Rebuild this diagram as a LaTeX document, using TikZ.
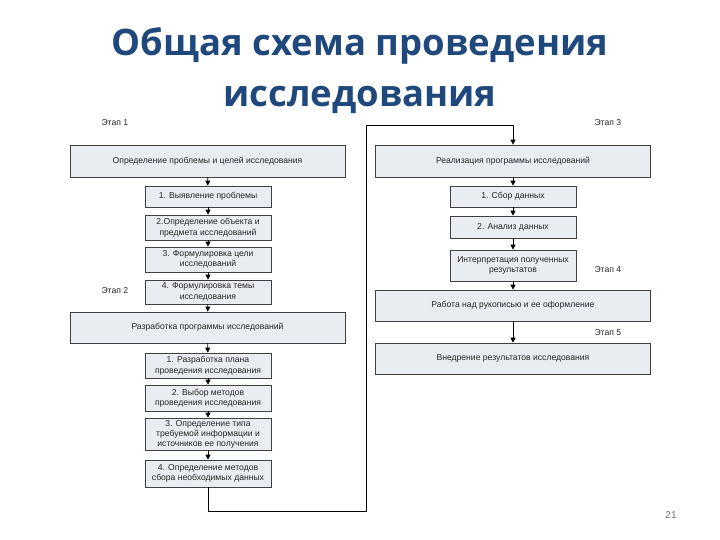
\documentclass[tikz,border=0pt]{standalone}
\usepackage{fontspec}
\setmainfont{Liberation Sans}
\newfontfamily\titlefont{Open Sans}
\usetikzlibrary{arrows.meta}
\definecolor{titleblue}{RGB}{31,73,125}
\definecolor{boxfill}{RGB}{233,237,241}
\tikzset{
	box/.style={draw=black!75, fill=boxfill, align=center, inner sep=1pt,
		text=black!85, font=\fontsize{8.6}{10.5}\selectfont, line width=0.7pt},
	bigbox/.style={box, minimum width=275pt},
	smallbox/.style={box, minimum width=126pt},
	etap/.style={font=\fontsize{8.6}{9}\selectfont, text=black!85, anchor=west},
	arr/.style={-{Triangle[length=5pt,width=5pt]}, line width=0.8pt}
}
\begin{document}
\begin{tikzpicture}[x=1pt,y=-1pt]
	\useasboundingbox (0,0) rectangle (720,540);
	\node[font=\titlefont\bfseries\fontsize{36.5}{51}\selectfont, text=titleblue, align=center] (title) at (360,71) {Общая схема проведения\\исследования};
	% этап 1
	\node[etap] (e1) at (98,123) {Этап 1};
	\node[bigbox, minimum height=32pt] (opr) at (207.5,161) {Определение проблемы и целей исследования};
	\node[smallbox, minimum height=21pt] (a1) at (208,196.5) {1. Выявление проблемы};
	\node[smallbox, minimum height=25pt] (a2) at (208,227.5) {2.Определение объекта и\\предмета  исследований};
	\node[smallbox, minimum height=25pt] (a3) at (208,259.5) {3. Формулировка цели\\исследований};
	\node[smallbox, minimum height=24pt] (a4) at (208,292) {4. Формулировка темы\\исследования};
	% этап 2
	\node[etap] (e2) at (98,291) {Этап 2};
	\node[bigbox, minimum height=31pt] (razr) at (207.5,327.5) {Разработка программы исследований};
	\node[smallbox, minimum height=25pt] (b1) at (208,365.5) {1. Разработка плана\\проведения исследования};
	\node[smallbox, minimum height=26pt] (b2) at (208,398) {2. Выбор методов\\проведения исследования};
	\node[smallbox, minimum height=32pt, font=\fontsize{8.6}{10}\selectfont] (b3) at (208,434) {3. Определение типа\\требуемой информации и\\источников ее получения};
	\node[smallbox, minimum height=27pt] (b4) at (208,473.5) {4. Определение методов\\сбора необходимых данных};
	% этап 3
	\node[etap] (e3) at (591,123) {Этап 3};
	\node[bigbox, minimum height=32pt] (real) at (513,161) {Реализация программы исследований};
	\node[smallbox, minimum height=21pt] (c1) at (513,196.5) {1. Сбор данных};
	\node[smallbox, minimum height=22pt] (c2) at (513,227) {2. Анализ данных};
	\node[smallbox, minimum height=31pt] (c3) at (513,265.5) {Интерпретация полученных\\результатов};
	% этап 4
	\node[etap] (e4) at (591,270) {Этап 4};
	\node[bigbox, minimum height=31pt] (rab) at (513,305.5) {Работа над рукописью и ее оформление};
	% этап 5
	\node[etap] (e5) at (591,333) {Этап 5};
	\node[bigbox, minimum height=31pt] (vnedr) at (513,358.5) {Внедрение результатов исследования};
	\node[font=\rmfamily\fontsize{10}{11}\selectfont, text=black!55] (page) at (671,515) {21};
	% стрелки
	\draw[arr] (opr) -- (a1);
	\draw[arr] (a1) -- (a2);
	\draw[arr] (a2) -- (a3);
	\draw[arr] (a3) -- (a4);
	\draw[arr] (a4) -- (razr);
	\draw[arr] (razr) -- (b1);
	\draw[arr] (b1) -- (b2);
	\draw[arr] (b2) -- (b3);
	\draw[arr] (b3) -- (b4);
	\coordinate (p1) at (208,511);
	\coordinate (p2) at (366,511);
	\coordinate (p3) at (366,125);
	\coordinate (p4) at (513,125);
	\draw[arr] (b4) -- (p1) -- (p2) -- (p3) -- (p4) -- (real);
	\draw[arr] (real) -- (c1);
	\draw[arr] (c1) -- (c2);
	\draw[arr] (c2) -- (c3);
	\draw[arr] (c3) -- (rab);
	\draw[arr] (rab) -- (vnedr);
\end{tikzpicture}
\end{document}
